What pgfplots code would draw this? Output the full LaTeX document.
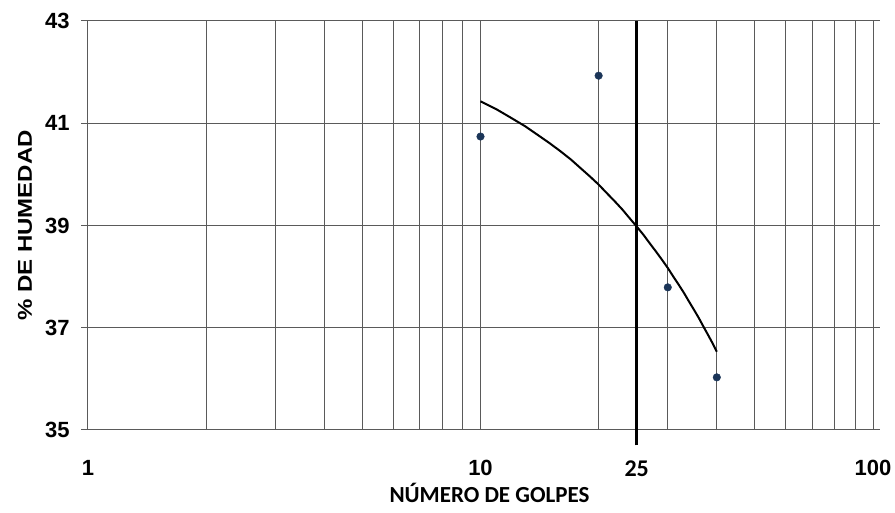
\documentclass[border=0pt]{standalone}
\usepackage{pgfplots}
\pgfplotsset{compat=1.18}
\usepackage{fontspec}
\setmainfont{Liberation Sans}
\newfontfamily\calib{Carlito}
\definecolor{gridc}{HTML}{5A5A5A}
\definecolor{dotc}{HTML}{1B3558}
\begin{document}
\begin{tikzpicture}[x=1pt,y=1pt]
\useasboundingbox (0,0) rectangle (895,513);
\begin{axis}[
  at={(88pt,83pt)}, anchor=south west,
  scale only axis, width=785pt, height=409pt,
  xmode=log, log basis x=10,
  xmin=1, xmax=100, ymin=35, ymax=43,
  xtick={1,10,25,100},
  xticklabels={1,10,{\calib\bfseries\fontsize{24}{26}\selectfont 25},100},
  minor xtick={2,3,4,5,6,7,8,9,20,30,40,50,60,70,80,90},
  ytick={35,37,39,41,43},
  grid=both,
  major grid style={gridc, line width=1pt},
  minor grid style={gridc, line width=1pt},
  axis line style={gridc, line width=1pt},
  tick style={gridc, line width=1pt},
  x tick style={draw=none},
  minor x tick style={draw=none},
  ytick align=outside, major tick length=7pt,
  tick label style={font=\fontsize{22}{24}\selectfont\bfseries},
  xticklabel style={yshift=-27pt},
  yticklabel style={xshift=-8pt},
  /pgf/number format/assume math mode=true,
  xlabel={\calib\bfseries NÚMERO DE GOLPES},
  xlabel style={font=\fontsize{23}{25}\selectfont, yshift=0pt, xshift=9pt},
  ylabel={\scalebox{1.2}[1]{\% DE HUMEDAD}},
  ylabel style={font=\fontsize{20}{22}\selectfont\bfseries, yshift=6pt},
  clip=false,
  log ticks with fixed point,
]
\addplot[black, line width=2.8pt] coordinates {(25,34.7) (25,43)};
\addplot[black, line width=2pt] coordinates {
(10,41.43) (11,41.27) (12,41.10) (13,40.94) (14,40.77) (15,40.61) (16,40.45)
(17,40.29) (18,40.12) (19,39.96) (20,39.80) (21,39.63) (22,39.47) (23,39.31)
(24,39.14) (25,38.98) (26,38.82) (27,38.65) (28,38.49) (29,38.33) (30,38.17)
(31,38.00) (32,37.84) (33,37.68) (34,37.51) (35,37.35) (36,37.19) (37,37.02)
(38,36.86) (39,36.70) (40,36.53)};
\addplot[only marks, mark=*, mark size=3.8pt, dotc] coordinates {
(10,40.74) (20,41.93) (30,37.79) (40,36.03)};
\end{axis}
\end{tikzpicture}
\end{document}
